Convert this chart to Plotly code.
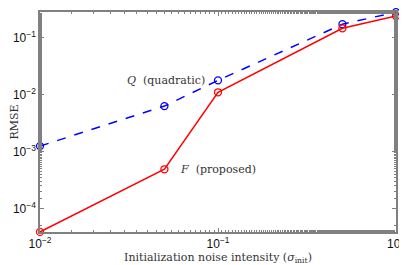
import plotly.graph_objects as go

sigma = [0.01, 0.05, 0.1, 0.5, 1.0]
rmse_F = [3.9e-5, 4.9e-4, 1.1e-2, 0.146, 0.24]
rmse_Q = [1.25e-3, 6.3e-3, 0.0178, 0.172, 0.28]
xtick_vals = [0.01, 0.1, 1]
xtick_text = ["10<sup>−2</sup>", "10<sup>−1</sup>", "10<sup>0</sup>"]
ytick_vals = [1e-4, 1e-3, 1e-2, 1e-1]
ytick_text = ["10<sup>−4</sup>", "10<sup>−3</sup>", "10<sup>−2</sup>", "10<sup>−1</sup>"]

fig = go.Figure()
fig.add_trace(go.Scatter(x=sigma, y=rmse_Q, mode="lines+markers",
    line=dict(color="#0000ff", width=1.5, dash="dash"),
    marker=dict(symbol="circle-open", size=7, color="#0000ff", line=dict(width=1.3)),
    cliponaxis=False, showlegend=False))
fig.add_trace(go.Scatter(x=sigma, y=rmse_F, mode="lines+markers",
    line=dict(color="#ff0000", width=1.5),
    marker=dict(symbol="circle-open", size=7, color="#ff0000", line=dict(width=1.3)),
    cliponaxis=False, showlegend=False))

serif = "DejaVu Serif"
fig.add_annotation(x=-1.52, y=-1.76, xref="x", yref="y", text="<i>Q</i>&nbsp;&nbsp;(quadratic)",
    showarrow=False, xanchor="left", yanchor="middle", font=dict(family=serif, size=11, color="#333"))
fig.add_annotation(x=-1.225, y=-3.32, xref="x", yref="y", text="<i>F</i>&nbsp;&nbsp;(proposed)",
    showarrow=False, xanchor="left", yanchor="middle", font=dict(family=serif, size=11, color="#333"))

axcommon = dict(showline=True, linecolor="#808080", linewidth=1.5, mirror="ticks",
    ticks="inside", ticklen=4, tickcolor="#808080", showgrid=False, zeroline=False,
    automargin=False, tickfont=dict(family="Liberation Sans", size=12, color="#111"))

fig.update_xaxes(type="log", range=[-2, 0], tickvals=xtick_vals, ticktext=xtick_text,
    minor=dict(ticks="inside", ticklen=2, tickcolor="#808080", showgrid=False),
    title=dict(text="Initialization noise intensity (<i>σ</i><sub>init</sub>)",
               font=dict(family=serif, size=11, color="#333")), **axcommon)
fig.update_yaxes(type="log", range=[-4.41, -0.55], tickvals=ytick_vals, ticktext=ytick_text,
    minor=dict(ticks="inside", ticklen=2, tickcolor="#808080", showgrid=False),
    title=dict(text="RMSE", font=dict(family=serif, size=11, color="#333")), **axcommon)

# page body has an 8px default margin; shrink figure so it fits the 407x265 window
fig.update_layout(width=399, height=257, margin=dict(l=32, r=11, t=4, b=33),
    plot_bgcolor="white", paper_bgcolor="white")
fig.write_html("out.html")
